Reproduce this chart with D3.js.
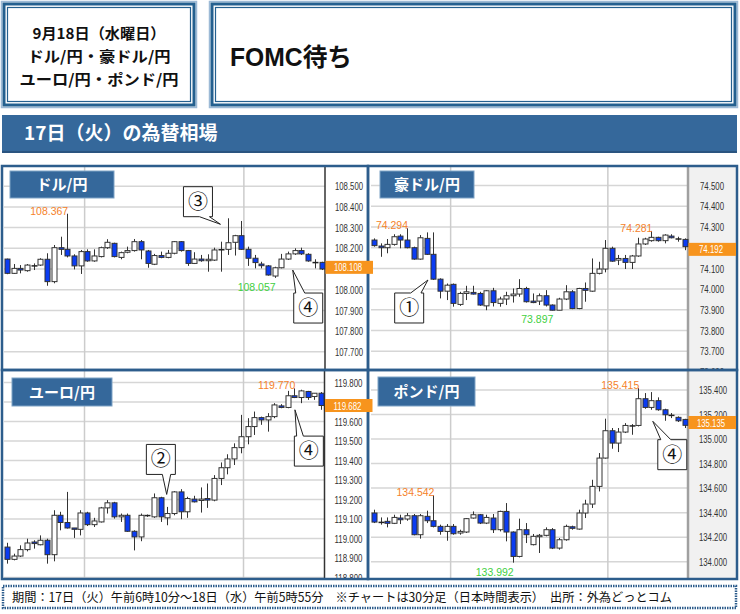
<!DOCTYPE html>
<html><head><meta charset="utf-8">
<script src="https://cdn.jsdelivr.net/npm/d3@7"></script>
<style>body{margin:0;background:#fff}svg{display:block}</style>
</head><body>
<svg id="c" width="740" height="614"></svg>
<script>
// ---------------- DATA ----------------
const headerLines = ["9月18日（水曜日）", "ドル/円・豪ドル/円", "ユーロ/円・ポンド/円"];
const headline = "FOMC待ち";
const sectionTitle = "17日（火）の為替相場";
const footerText = "期間：17日（火）午前6時10分～18日（水）午前5時55分　※チャートは30分足（日本時間表示）　出所：外為どっとコム";
const vGridIdx = [11.6, 35.4];

// USD/JPY 30-min candles
const usdOpen  = [108.148,108.079,108.103,108.092,108.115,108.119,108.147,108.039,108.203,108.195,108.163,108.115,108.184,108.139,108.160,108.203,108.224,108.156,108.181,108.189,108.232,108.187,108.123,108.165,108.156,108.176,108.232,108.189,108.127,108.148,108.140,108.143,108.192,108.195,108.229,108.261,108.195,108.152,108.124,108.115,108.066,108.106,108.148,108.173,108.189,108.171,108.131,108.132];
const usdHigh  = [108.150,108.124,108.119,108.124,108.127,108.152,108.176,108.216,108.256,108.367,108.171,108.192,108.195,108.195,108.208,108.244,108.227,108.184,108.208,108.245,108.240,108.192,108.173,108.184,108.192,108.235,108.235,108.192,108.181,108.168,108.171,108.203,108.232,108.345,108.265,108.332,108.208,108.168,108.135,108.119,108.111,108.173,108.184,108.200,108.203,108.176,108.147,108.135];
const usdLow   = [108.075,108.076,108.079,108.087,108.095,108.115,108.019,108.031,108.168,108.156,108.098,108.076,108.135,108.135,108.156,108.197,108.156,108.147,108.176,108.184,108.147,108.106,108.119,108.152,108.152,108.171,108.184,108.115,108.124,108.135,108.087,108.139,108.087,108.168,108.165,108.192,108.115,108.103,108.103,108.068,108.057,108.103,108.144,108.168,108.168,108.135,108.103,108.095];
const usdClose = [108.079,108.103,108.095,108.119,108.115,108.147,108.039,108.203,108.195,108.163,108.115,108.184,108.139,108.163,108.203,108.229,108.160,108.179,108.189,108.232,108.192,108.127,108.165,108.156,108.176,108.232,108.189,108.127,108.148,108.140,108.147,108.192,108.194,108.227,108.261,108.195,108.152,108.131,108.116,108.071,108.106,108.148,108.173,108.189,108.173,108.139,108.131,108.100];
const usdTicks = [107.6,107.7,107.8,107.9,108.0,108.1,108.2,108.3,108.4,108.5];
const usdLast = 108.108;
const usdMarks = [{i:9, v:108.367, t:"hi"}, {i:40, v:108.057, t:"lo"}];

// AUD/JPY
const audOpen  = [74.237,74.208,74.200,74.216,74.256,74.237,74.200,74.145,74.245,74.168,74.048,73.990,74.023,73.926,73.979,73.984,73.979,73.919,73.992,73.931,73.952,73.968,73.976,74.003,73.942,73.942,73.968,73.923,73.898,73.952,73.987,73.906,74.003,73.990,74.076,74.097,74.197,74.140,74.148,74.129,74.160,74.218,74.234,74.250,74.234,74.256,74.242,74.240];
const audHigh  = [74.245,74.221,74.242,74.265,74.265,74.294,74.205,74.261,74.274,74.274,74.052,74.027,74.027,73.987,74.016,74.016,73.987,73.995,74.006,73.963,73.987,74.003,74.048,74.011,73.979,73.979,73.995,73.926,73.958,74.019,73.995,74.006,74.032,74.148,74.132,74.237,74.205,74.165,74.165,74.165,74.248,74.248,74.281,74.253,74.265,74.265,74.253,74.245];
const audLow   = [74.205,74.156,74.173,74.210,74.197,74.197,74.142,74.142,74.165,74.044,73.955,73.947,73.915,73.919,73.947,73.974,73.919,73.898,73.916,73.915,73.923,73.935,73.963,73.935,73.932,73.923,73.916,73.897,73.898,73.947,73.903,73.903,73.939,73.987,74.071,74.081,74.132,74.116,74.097,74.097,74.156,74.213,74.229,74.229,74.221,74.245,74.229,74.188];
const audClose = [74.210,74.200,74.216,74.253,74.237,74.200,74.145,74.248,74.168,74.048,73.990,74.019,73.931,73.979,73.987,73.976,73.923,73.992,73.935,73.952,73.968,73.976,74.003,73.939,73.935,73.968,73.923,73.898,73.952,73.987,73.906,74.003,73.994,74.076,74.097,74.197,74.135,74.148,74.129,74.160,74.218,74.242,74.250,74.234,74.261,74.248,74.242,74.205];
const audTicks = [73.6,73.7,73.8,73.9,74.0,74.1,74.2,74.3,74.4,74.5];
const audLast = 74.192;
const audMarks = [{i:5, v:74.294, t:"hi"}, {i:27, v:73.897, t:"lo"}, {i:42, v:74.281, t:"hi"}];

// EUR/JPY
const eurOpen  = [118.956,118.893,118.910,118.943,118.982,118.968,118.991,118.917,119.119,119.082,119.054,119.047,119.131,119.071,119.085,119.157,119.183,119.111,119.119,119.037,119.008,119.116,119.111,119.209,119.106,119.128,119.239,119.137,119.202,119.195,119.205,119.197,119.308,119.363,119.408,119.466,119.522,119.574,119.620,119.608,119.625,119.680,119.672,119.732,119.723,119.754,119.728,119.745];
const eurHigh  = [118.978,118.922,118.965,118.999,118.991,119.016,118.999,119.145,119.137,119.239,119.054,119.145,119.137,119.106,119.162,119.197,119.188,119.128,119.128,119.042,119.128,119.123,119.231,119.214,119.162,119.243,119.253,119.214,119.219,119.262,119.282,119.325,119.390,119.432,119.488,119.634,119.617,119.651,119.625,119.643,119.694,119.689,119.757,119.770,119.763,119.757,119.745,119.751];
const eurLow   = [118.871,118.888,118.905,118.934,118.948,118.965,118.871,118.883,119.042,119.051,119.003,119.016,119.064,119.059,119.082,119.128,119.102,119.085,119.034,118.939,118.986,119.111,119.106,119.085,119.068,119.119,119.099,119.106,119.185,119.133,119.157,119.191,119.274,119.329,119.377,119.437,119.483,119.531,119.583,119.548,119.617,119.668,119.668,119.720,119.694,119.711,119.711,119.660];
const eurClose = [118.893,118.910,118.943,118.977,118.974,118.991,118.917,119.119,119.082,119.054,119.047,119.131,119.071,119.090,119.157,119.183,119.111,119.119,119.037,119.008,119.119,119.119,119.209,119.111,119.128,119.239,119.137,119.205,119.188,119.202,119.197,119.308,119.363,119.408,119.466,119.522,119.574,119.620,119.608,119.625,119.685,119.672,119.732,119.723,119.757,119.723,119.745,119.682];
const eurTicks = [118.8,118.9,119.0,119.1,119.2,119.3,119.4,119.5,119.6,119.7,119.8];
const eurLast = 119.682;
const eurMarks = [{i:43, v:119.770, t:"hi"}];

// GBP/JPY
const gbpOpen  = [134.397,134.323,134.329,134.313,134.356,134.348,134.375,134.220,134.370,134.334,134.288,134.247,134.288,134.234,134.242,134.356,134.383,134.315,134.356,134.261,134.410,134.242,134.043,134.261,134.139,134.204,134.215,134.261,134.111,134.179,134.285,134.266,134.397,134.470,134.614,134.845,135.068,134.967,135.057,135.103,135.111,135.329,135.258,135.313,135.239,135.193,135.177,135.160];
const gbpHigh  = [134.424,134.361,134.361,134.383,134.383,134.397,134.389,134.389,134.416,134.542,134.302,134.307,134.307,134.261,134.356,134.410,134.389,134.383,134.389,134.416,134.478,134.247,134.351,134.315,134.226,134.226,134.280,134.274,134.193,134.302,134.294,134.424,134.505,134.668,134.886,135.166,135.090,135.090,135.130,135.122,135.415,135.375,135.383,135.340,135.247,135.212,135.185,135.165];
const gbpLow   = [134.315,134.302,134.280,134.307,134.307,134.334,134.215,134.188,134.315,134.280,134.220,134.171,134.220,134.220,134.234,134.351,134.307,134.307,134.234,134.247,134.166,133.992,134.035,134.152,134.133,134.071,134.207,134.103,134.098,134.171,134.261,134.261,134.356,134.438,134.573,134.840,134.921,134.894,135.049,135.035,135.103,135.247,135.239,135.231,135.149,135.171,135.139,135.090];
const gbpClose = [134.323,134.318,134.313,134.361,134.342,134.375,134.220,134.375,134.334,134.288,134.247,134.288,134.228,134.247,134.351,134.383,134.315,134.361,134.261,134.410,134.242,134.043,134.261,134.220,134.207,134.215,134.261,134.111,134.179,134.288,134.272,134.397,134.470,134.614,134.845,135.068,134.967,135.057,135.111,135.111,135.329,135.258,135.313,135.239,135.198,135.193,135.149,135.112];
const gbpTicks = [134.0,134.2,134.4,134.6,134.8,135.0,135.2,135.4];
const gbpLast = 135.135;
const gbpMarks = [{i:9, v:134.542, t:"hi"}, {i:21, v:133.992, t:"lo"}, {i:40, v:135.415, t:"hi"}];

// callouts (anchored at candle index / price)
const usdCallouts = [{n:"③", i:31.9, v:108.316, dx:-37, dy:-37.6, tail:"bottom", t0:-21, t1:-11},
                     {n:"④", i:42.7, v:108.095, dx:1, dy:23, tail:"top", t0:3, t1:12}];
const audCallouts = [{n:"①", i:8.17, v:74.044, dx:-33.3, dy:13, tail:"top", t0:-17.3, t1:-7}];
const eurCallouts = [{n:"②", i:23.9, v:119.226, dx:-20.3, dy:-50, tail:"bottom", t0:-4.3, t1:4},
                     {n:"④", i:43.1, v:119.660, dx:-0.6, dy:26.3, tail:"top", t0:1.7, t1:8.4}];
const gbpCallouts = [{n:"④", i:42.2, v:135.145, dx:5, dy:18.4, tail:"top", t0:8, t1:18}];

// ---------------- DRAW ----------------
const svg = d3.select("#c");
const JP = "'Noto Sans CJK JP','Noto Sans',sans-serif";
const NUM = "'Liberation Sans',Arial,sans-serif";
const SANS = "'Liberation Sans',Arial,sans-serif";
const BLUE_DARK = "#24608f";

svg.append("rect").attr("width",740).attr("height",614).attr("fill","#fff");

function framedBox(x,y,w,h){
  svg.append("rect").attr("x",x+0.5).attr("y",y+0.5).attr("width",w-1).attr("height",h-1)
    .attr("fill","#fff").attr("stroke","#9dbad6").attr("stroke-width",1.5);
  svg.append("rect").attr("x",x+3).attr("y",y+3).attr("width",w-6).attr("height",h-6)
    .attr("fill","none").attr("stroke",BLUE_DARK).attr("stroke-width",3);
  svg.append("rect").attr("x",x+6.5).attr("y",y+6.5).attr("width",w-13).attr("height",h-13)
    .attr("fill","none").attr("stroke",BLUE_DARK).attr("stroke-width",1.2);
}
framedBox(1,1,196,107);
framedBox(209,1,529,107);

const headerWidths = [133,143,159];
svg.selectAll(".hl").data(headerLines).join("text")
  .attr("x",(d,i)=>99-headerWidths[i]/2).attr("y",(d,i)=>38.5+i*23)
  .attr("textLength",(d,i)=>headerWidths[i]).attr("lengthAdjust","spacingAndGlyphs")
  .attr("font-family",JP).attr("font-size",15).attr("font-weight",700).attr("fill","#111")
  .text(d=>d);

svg.append("text").attr("x",230).attr("y",66).attr("font-family","'Liberation Sans','Noto Sans CJK JP',sans-serif")
  .attr("font-size",25).attr("font-weight",700).attr("textLength",122).attr("lengthAdjust","spacingAndGlyphs")
  .attr("fill","#111").text(headline);

svg.append("rect").attr("x",2).attr("y",115).attr("width",735).attr("height",38).attr("fill","#35689b");
svg.append("rect").attr("x",2).attr("y",151).attr("width",735).attr("height",2).attr("fill","#2a5480");
svg.append("text").attr("x",24).attr("y",140).attr("font-family",JP).attr("font-size",19).attr("font-weight",700)
  .attr("fill","#fff").text(sectionTitle);

const panels = [
  {id:"usd", name:"ドル/円", o:usdOpen,h:usdHigh,l:usdLow,c:usdClose, ticks:usdTicks, last:usdLast, marks:usdMarks, callouts:usdCallouts,
   frame:[2,166,368,370], plotLeft:4, axisX:325, yDomain:[107.6,108.5], yRange:[372.5,186.2], axisBg:"#fff", axisLine:"#333", axisLW:1.5, title:[10,171,104,27], pad:10},
  {id:"aud", name:"豪ドル/円", o:audOpen,h:audHigh,l:audLow,c:audClose, ticks:audTicks, last:audLast, marks:audMarks, callouts:audCallouts,
   frame:[368,166,737,370], plotLeft:371, axisX:688, yDomain:[73.6,74.5], yRange:[371.9,185.6], axisBg:"#f1f1f1", axisLine:"#a0a0a0", axisLW:2.5, title:[380,171,94,27], pad:12},
  {id:"eur", name:"ユーロ/円", o:eurOpen,h:eurHigh,l:eurLow,c:eurClose, ticks:eurTicks, last:eurLast, marks:eurMarks, callouts:eurCallouts,
   frame:[2,370,368,579], plotLeft:4, axisX:324.5, yDomain:[118.8,119.8], yRange:[577.5,382.5], axisBg:"#fff", axisLine:"#333", axisLW:1.5, title:[12,378,100,28], pad:10},
  {id:"gbp", name:"ポンド/円", o:gbpOpen,h:gbpHigh,l:gbpLow,c:gbpClose, ticks:gbpTicks, last:gbpLast, marks:gbpMarks, callouts:gbpCallouts,
   frame:[368,370,737,579], plotLeft:371, axisX:688, yDomain:[134.0,135.4], yRange:[561.7,390], axisBg:"#f1f1f1", axisLine:"#a0a0a0", axisLW:2.5, title:[378,377,97,29], pad:11}
];

const fmt = d3.format(".3f");
const scales = {};

panels.forEach(p=>{
  const [fx0,fy0,fx1,fy1] = p.frame;
  const g = svg.append("g");
  g.append("rect").attr("x",fx0).attr("y",fy0).attr("width",fx1-fx0).attr("height",fy1-fy0).attr("fill","#fff");
  g.append("rect").attr("x",p.axisX).attr("y",fy0).attr("width",fx1-p.axisX).attr("height",fy1-fy0).attr("fill",p.axisBg);
  const x = d3.scaleLinear().domain([0,47]).range([p.plotLeft+3, p.axisX-3.5]);
  const y = d3.scaleLinear().domain(p.yDomain).range(p.yRange);
  scales[p.id] = {x,y};
  svg.append("clipPath").attr("id","clip-"+p.id).append("rect")
    .attr("x",fx0).attr("y",fy0).attr("width",fx1-fx0).attr("height",fy1-fy0);
  const inner = g.append("g").attr("clip-path",`url(#clip-${p.id})`);

  inner.selectAll(".hg").data(p.ticks).join("line")
    .attr("x1",p.plotLeft).attr("x2",p.axisX).attr("y1",d=>y(d)).attr("y2",d=>y(d))
    .attr("stroke","#d6d6d6").attr("stroke-width",1.5);
  inner.selectAll(".vg").data(vGridIdx).join("line")
    .attr("x1",d=>x(d)).attr("x2",d=>x(d)).attr("y1",fy0).attr("y2",fy1)
    .attr("stroke","#cccccc").attr("stroke-width",1.5);

  // tick labels hidden behind the current-price box are left out (as in the source)
  const shownTicks = p.ticks.filter(t=>Math.abs(y(t)-y(p.last))>=5);
  const ax = d3.axisRight(y).tickValues(shownTicks).tickFormat(fmt).tickSize(0).tickPadding(p.pad);
  inner.append("g").attr("transform",`translate(${p.axisX},0)`).call(ax)
    .call(s=>s.select(".domain").remove())
    .selectAll("text").attr("font-family",NUM).attr("font-size",11.5).attr("fill","#333")
    .attr("textLength",function(){return this.textContent.length*4;}).attr("lengthAdjust","spacingAndGlyphs");

  inner.append("line").attr("x1",p.axisX).attr("x2",p.axisX).attr("y1",fy0).attr("y2",fy1)
    .attr("stroke",p.axisLine).attr("stroke-width",p.axisLW);

  const data = d3.range(p.o.length).map(i=>({i,o:p.o[i],h:p.h[i],l:p.l[i],c:p.c[i]}));
  const cx = d=>Math.round(x(d.i))+0.5;
  inner.selectAll(".wick").data(data).join("line")
    .attr("x1",cx).attr("x2",cx).attr("y1",d=>y(d.h)).attr("y2",d=>y(d.l))
    .attr("stroke","#333").attr("stroke-width",1);
  const bodies = data.filter(d=>Math.abs(y(d.o)-y(d.c))>=1.2);
  const dojis = data.filter(d=>Math.abs(y(d.o)-y(d.c))<1.2);
  inner.selectAll(".body").data(bodies).join("rect")
    .attr("x",d=>cx(d)-2.5).attr("width",5)
    .attr("y",d=>y(Math.max(d.o,d.c))).attr("height",d=>Math.abs(y(d.o)-y(d.c)))
    .attr("fill",d=>d.c<d.o?"#0b3cf2":"#fff").attr("stroke","#333").attr("stroke-width",1);
  inner.selectAll(".doji").data(dojis).join("line")
    .attr("x1",d=>cx(d)-3).attr("x2",d=>cx(d)+3).attr("y1",d=>y((d.o+d.c)/2)).attr("y2",d=>y((d.o+d.c)/2))
    .attr("stroke","#222").attr("stroke-width",1.5);

  inner.selectAll(".mk").data(p.marks).join("text")
    .attr("x",d=>x(d.i)+1).attr("y",d=>d.t==="hi"?y(d.v)+1:y(d.v)+13)
    .attr("text-anchor","end").attr("font-family",SANS).attr("font-size",10.5)
    .attr("fill",d=>d.t==="hi"?"#f5822a":"#3fcf3f").text(d=>fmt(d.v));

  // callouts
  p.callouts.forEach(co=>{
    const tx = x(co.i), ty = y(co.v);
    const bx = tx+co.dx, by = ty+co.dy, w = 29, h = 30;
    let path;
    if(co.tail==="bottom"){
      path = `M${bx},${by} H${bx+w} V${by+h} H${tx+co.t1} L${tx},${ty} L${tx+co.t0},${by+h} H${bx} Z`;
    } else {
      path = `M${bx},${by} H${tx+co.t0} L${tx},${ty} L${tx+co.t1},${by} H${bx+w} V${by+h} H${bx} Z`;
    }
    g.append("path").attr("d",path).attr("fill","#fff").attr("stroke","#222").attr("stroke-width",1);
    g.append("text").attr("x",bx+w/2).attr("y",by+h/2+7).attr("text-anchor","middle")
      .attr("font-family",JP).attr("font-size",20).attr("fill","#111").text(co.n);
  });

  // title box
  const [tx0,ty0,tw,th] = p.title;
  g.append("rect").attr("x",tx0).attr("y",ty0).attr("width",tw).attr("height",th)
    .attr("fill","#35689b").attr("stroke","#7fa3c6").attr("stroke-width",1);
  g.append("text").attr("x",tx0+tw/2).attr("y",ty0+th/2+5.5).attr("text-anchor","middle")
    .attr("font-family",JP).attr("font-size",15).attr("font-weight",700).attr("fill","#fff").text(p.name);
});

// frames
panels.forEach(p=>{
  const [fx0,fy0,fx1,fy1] = p.frame;
  svg.append("rect").attr("x",fx0).attr("y",fy0).attr("width",fx1-fx0).attr("height",fy1-fy0)
    .attr("fill","none").attr("stroke","#2d5d8c").attr("stroke-width",2.5);
});

// current price boxes
panels.forEach(p=>{
  const y = scales[p.id].y(p.last);
  svg.append("rect").attr("x",p.axisX+0.5).attr("y",y-6.5).attr("width",47.5).attr("height",13).attr("fill","#f7941d");
  svg.append("text").attr("x",p.axisX+23).attr("y",y+4).attr("text-anchor","middle")
    .attr("font-family",NUM).attr("font-size",11.5).attr("fill","#fff")
    .attr("textLength",fmt(p.last).length*4).attr("lengthAdjust","spacingAndGlyphs").text(fmt(p.last));
});

// footer
svg.append("rect").attr("x",3).attr("y",586).attr("width",733).attr("height",22).attr("fill","#fff")
  .attr("stroke","#2d5d8c").attr("stroke-width",2.5).attr("stroke-dasharray","1.5,1");
svg.append("text").attr("x",12).attr("y",602).attr("font-family",JP).attr("font-size",12.5).attr("fill","#111")
  .attr("textLength",660).attr("lengthAdjust","spacingAndGlyphs").text(footerText);
</script>
</body></html>
